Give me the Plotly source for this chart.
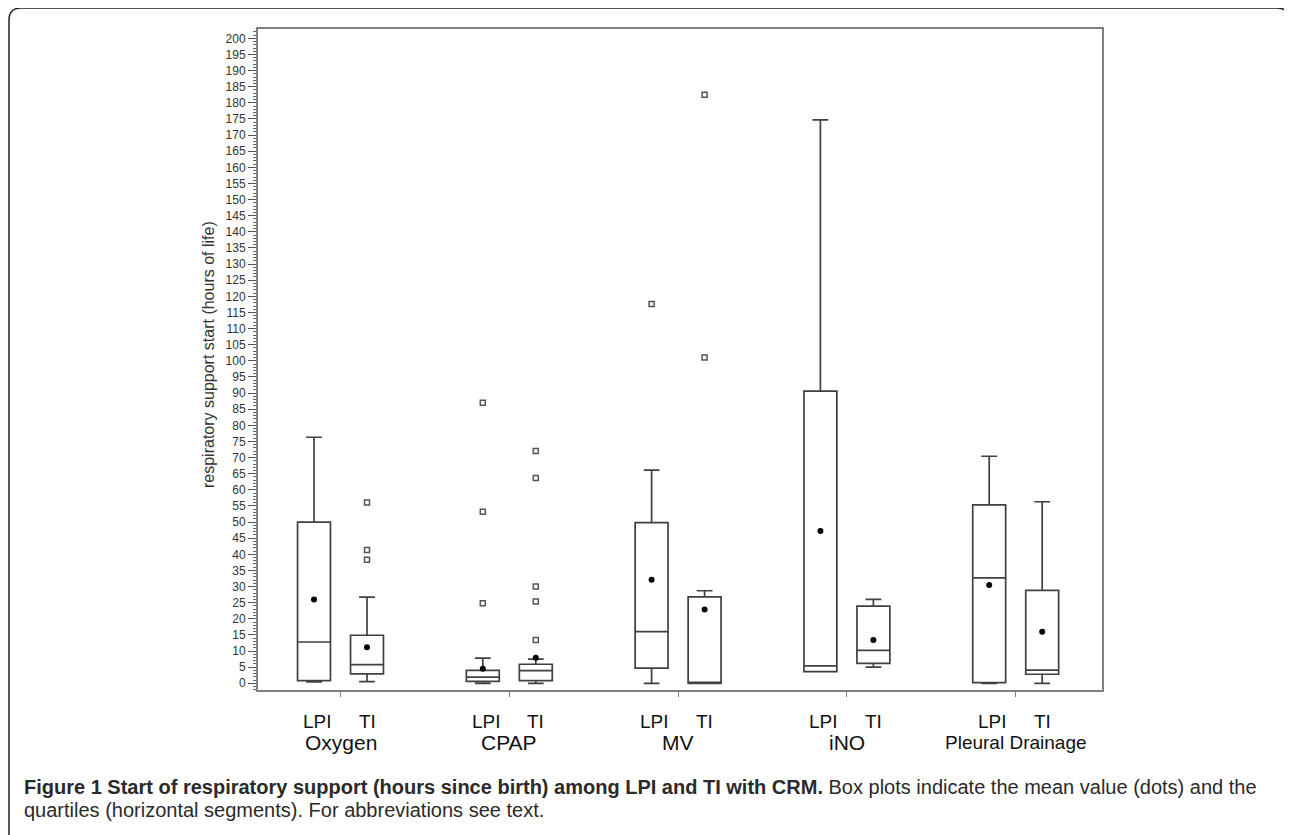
import plotly.graph_objects as go

# ---------------- data ----------------
groups = ["Oxygen", "CPAP", "MV", "iNO", "Pleural Drainage"]
subgroups = ["LPI", "TI"]

# order: Oxygen LPI, Oxygen TI, CPAP LPI, CPAP TI, MV LPI, MV TI, iNO LPI, iNO TI, PD LPI, PD TI
lower_fence = [0.4, 0.5, 0.0, 0.0, 0.0, 0.0, 3.6, 5.0, 0.0, 0.0]
q1_vals = [0.8, 2.9, 0.6, 0.8, 4.7, 0.0, 3.6, 6.2, 0.2, 2.8]
median_vals = [12.8, 5.8, 1.9, 3.9, 16.0, 0.0, 5.4, 10.2, 32.7, 4.1]
q3_vals = [50.0, 14.9, 4.0, 5.9, 49.8, 26.8, 90.6, 23.9, 55.3, 28.8]
upper_fence = [76.3, 26.7, 7.8, 7.5, 66.1, 28.7, 174.7, 26.0, 70.4, 56.3]
mean_vals = [26.0, 11.2, 4.5, 7.9, 32.1, 22.9, 47.2, 13.4, 30.5, 16.0]
outlier_vals = [
    [], [56.1, 41.3, 38.3],
    [87.0, 53.2, 24.8], [72.0, 63.7, 30.0, 25.4, 13.4],
    [117.6], [182.5, 101.0],
    [], [],
    [], [],
]

y_tick_values = list(range(0, 201, 5))
y_title = "respiratory support start (hours of life)"
caption_bold = "Figure 1 Start of respiratory support (hours since birth) among LPI and TI with CRM."
caption_rest_1 = " Box plots indicate the mean value (dots) and the"
caption_line_2 = "quartiles (horizontal segments). For abbreviations see text."

# ---------------- layout helpers (screen pixel coordinates) ----------------
SCREEN_W, SCREEN_H = 1292, 835
BODY = 8  # default page margin of the html body
W, H = SCREEN_W - BODY, SCREEN_H - BODY
PL, PR, PT, PB = 258, 1102, 29, 690  # plot area on screen
OFFSET = 0.157
BOX_W = 0.195


def px2paper_x(px):
    return (px - PL) / (PR - PL)


def px2paper_y(py):
    return (PB - py) / (PB - PT)


positions = []
for gi, g in enumerate(groups):
    for si, s in enumerate(subgroups):
        positions.append(gi + (-OFFSET if si == 0 else OFFSET))

fig = go.Figure()

line_col = "#404040"
fig.add_trace(go.Box(
    x=positions,
    q1=q1_vals,
    median=median_vals,
    q3=q3_vals,
    lowerfence=lower_fence,
    upperfence=upper_fence,
    width=BOX_W,
    whiskerwidth=0.48,
    boxpoints=False,
    fillcolor="white",
    line=dict(color=line_col, width=1.7),
    showlegend=False,
    hoverinfo="skip",
))

fig.add_trace(go.Scatter(
    x=positions, y=mean_vals, mode="markers",
    marker=dict(color="black", size=6, symbol="circle"),
    showlegend=False, hoverinfo="skip",
))

ox, oy = [], []
for p, vals in zip(positions, outlier_vals):
    for v in vals:
        ox.append(p)
        oy.append(v)
fig.add_trace(go.Scatter(
    x=ox, y=oy, mode="markers",
    marker=dict(color="#555555", size=5, symbol="square-open",
                line=dict(width=1.5, color="#555555")),
    showlegend=False, hoverinfo="skip",
))

axis_col = "#808080"
x_left = -(340.5 - PL) / 168.8
x_right = (PR - 340.5) / 168.8

fig.update_xaxes(
    range=[x_left, x_right],
    tickvals=list(range(len(groups))),
    ticktext=[""] * len(groups),
    ticks="outside", ticklen=5, tickcolor=axis_col, tickwidth=1.2,
    showline=True, linecolor=axis_col, linewidth=2, mirror=True,
    showgrid=False, zeroline=False,
)
fig.update_yaxes(
    range=[-2.08, 202.9],
    tickvals=y_tick_values,
    ticks="outside", ticklen=8, tickcolor="#555555", tickwidth=1.2,
    minor=dict(dtick=1, tick0=0, ticks="outside", ticklen=3,
               tickcolor="#666666", tickwidth=1),
    showline=True, linecolor=axis_col, linewidth=2, mirror=True,
    showgrid=False, zeroline=False,
    tickfont=dict(family="Liberation Sans, Arial, sans-serif", size=12, color="#333333"),
)

annotations = []
annotations.append(dict(
    text=y_title, xref="paper", yref="paper",
    x=px2paper_x(208), y=px2paper_y(355), textangle=-90,
    showarrow=False, xanchor="center", yanchor="middle",
    font=dict(family="Liberation Sans, Arial, sans-serif", size=16, color="#333333"),
))

lab_font = dict(family="Liberation Sans, Arial, sans-serif", size=19, color="#111111")
cat_font = dict(family="Liberation Sans, Arial, sans-serif", size=21, color="#111111")
for gi, g in enumerate(groups):
    for si, s in enumerate(subgroups):
        p = gi + (-OFFSET if si == 0 else OFFSET)
        annotations.append(dict(
            text=s, xref="x", yref="paper", x=p + (0.02 if si == 0 else 0.0),
            y=px2paper_y(721.5), showarrow=False,
            xanchor="center", yanchor="middle", font=lab_font,
        ))
    f = cat_font
    if g == "Pleural Drainage":
        f = dict(family="Liberation Sans, Arial, sans-serif", size=19, color="#111111")
    annotations.append(dict(
        text=g, xref="x", yref="paper", x=gi, y=px2paper_y(743),
        showarrow=False, xanchor="center", yanchor="middle", font=f,
    ))

cap_font = dict(family="Liberation Sans, Arial, sans-serif", size=20, color="#2a2a2a")
annotations.append(dict(
    text=f"<b>{caption_bold}</b>{caption_rest_1}", xref="paper", yref="paper",
    x=px2paper_x(22), y=px2paper_y(787), showarrow=False,
    xanchor="left", yanchor="middle", font=cap_font,
))
annotations.append(dict(
    text=caption_line_2, xref="paper", yref="paper",
    x=px2paper_x(22), y=px2paper_y(810), showarrow=False,
    xanchor="left", yanchor="middle", font=cap_font,
))

# rounded outer frame (open at bottom)
r = 12
x0, x1, y0, yb = 9, 1289, 8, 845


def P(px, py):
    return f"{px2paper_x(px):.5f},{px2paper_y(py):.5f}"


path = (f"M {P(x0, yb)} L {P(x0, y0 + r)} Q {P(x0, y0)} {P(x0 + r, y0)} "
        f"L {P(x1 - r, y0)} Q {P(x1, y0)} {P(x1, y0 + r)} L {P(x1, yb)}")

fig.update_layout(
    width=W, height=H,
    margin=dict(l=PL - BODY, r=SCREEN_W - PR, t=PT - BODY, b=SCREEN_H - PB,
                autoexpand=False),
    paper_bgcolor="white", plot_bgcolor="white",
    annotations=annotations,
    shapes=[dict(type="path", path=path, xref="paper", yref="paper",
                 line=dict(color="#222222", width=1.5))],
    showlegend=False,
)

fig.write_html("out.html")
